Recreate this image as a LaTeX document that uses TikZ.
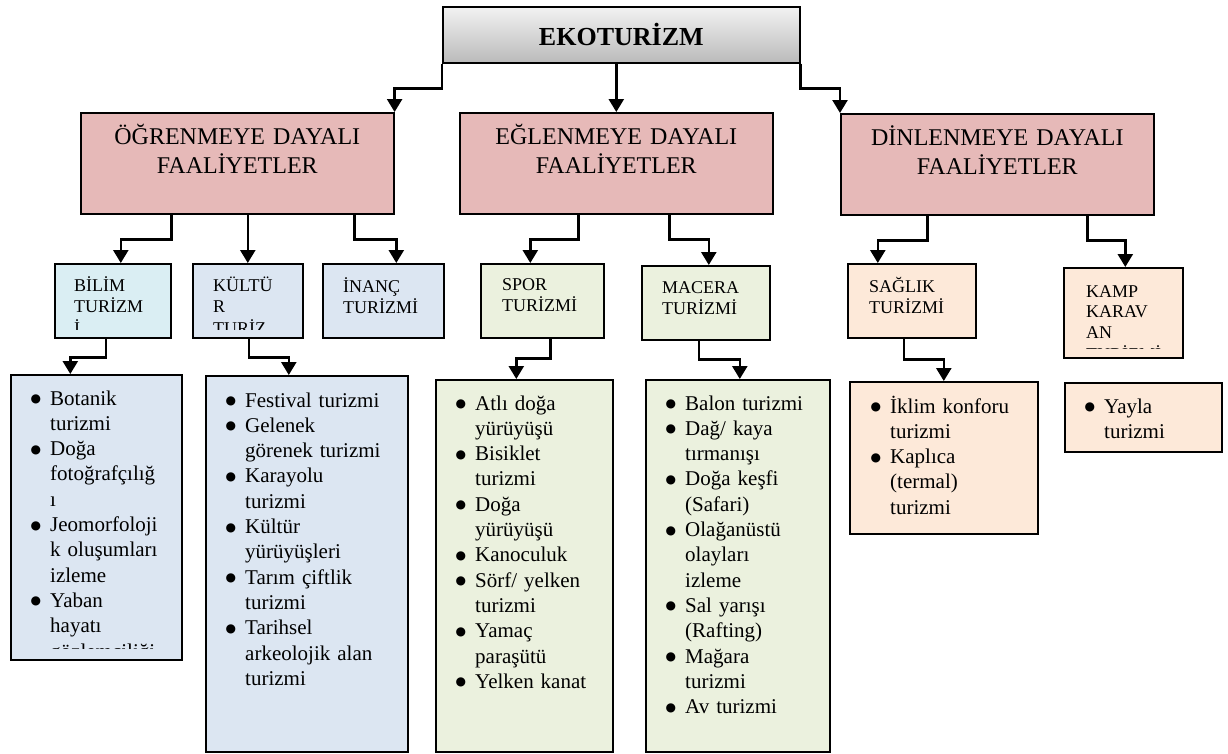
\documentclass[tikz,border=0pt]{standalone}
\usepackage{fontspec}
\setmainfont{Liberation Serif}
\newfontfamily\simge{DejaVu Sans}
\usetikzlibrary{arrows.meta,positioning}
\definecolor{pembe}{HTML}{E6B9B8}
\definecolor{acikmavi}{HTML}{DAEEF3}
\definecolor{grimavi}{HTML}{DCE6F2}
\definecolor{yesil}{HTML}{EBF1DE}
\definecolor{ten}{HTML}{FDE9D9}
\newcommand{\mad}{\makebox[0pt][r]{\raisebox{2.5pt}{\simge\fontsize{12}{12}\selectfont ●}\hspace{9pt}}}

\begin{document}
\begin{tikzpicture}[x=1pt, y=-1pt,
    kutu/.style={draw, line width=1.6pt, anchor=north west, inner sep=0pt},
    ana/.style={kutu, fill=pembe, minimum width=313pt, minimum height=101pt},
    anayazi/.style={anchor=base, inner sep=0pt, text width=300pt, align=center, font=\fontsize{24}{29}\selectfont},
    altyazi/.style={anchor=base west, inner sep=0pt, text width=110pt, align=left, font=\fontsize{18}{21.5}\selectfont},
    liste/.style={anchor=base west, inner sep=0pt, text width=170pt, align=left, font=\fontsize{21}{25.3}\selectfont},
    ok/.style={line width=2.5pt, -{Triangle[width=15pt,length=13pt]}}]
  \useasboundingbox (0,0) rectangle (1228,753);

  % ust kutu
  \node[kutu, top color=black!5, bottom color=black!27, minimum width=357pt, minimum height=56pt,
        font=\bfseries\fontsize{26}{30}\selectfont] (eko) at (442,6) {EKOTURİZM};

  % faaliyetler
  \node[ana] (ogr) at (80,112) {};
  \node[ana] (egl) at (459,112) {};
  \node[ana] (din) at (840,113) {};
  \node[anayazi] (ogrtxt) at ([yshift=-32pt]ogr.north) {ÖĞRENMEYE DAYALI\\FAALİYETLER};
  \node[anayazi] (egltxt) at ([yshift=-32pt]egl.north) {EĞLENMEYE DAYALI\\FAALİYETLER};
  \node[anayazi] (dintxt) at ([yshift=-32pt]din.north) {DİNLENMEYE DAYALI\\FAALİYETLER};

  % turizm turleri
  \node[kutu, fill=acikmavi, minimum width=116pt, minimum height=74pt] (bil) at (54,263) {};
  \node[kutu, fill=grimavi, minimum width=110pt, minimum height=74pt] (kul) at (192,263) {};
  \node[kutu, fill=grimavi, minimum width=121pt, minimum height=74pt] (ina) at (322,263) {};
  \node[kutu, fill=yesil, minimum width=123pt, minimum height=74pt] (spo) at (480,263) {};
  \node[kutu, fill=yesil, minimum width=128pt, minimum height=74pt] (mac) at (641,265) {};
  \node[kutu, fill=ten, minimum width=128pt, minimum height=74pt] (sag) at (847,263) {};
  \node[kutu, fill=ten, minimum width=119pt, minimum height=90pt] (kmp) at (1063,267) {};

  \begin{scope}
    \clip (bil.north west) rectangle ([yshift=9pt]bil.south east);
    \node[altyazi] (biltxt) at (74,291) {BİLİM\\TURİZM\\İ};
  \end{scope}
  \begin{scope}
    \clip (kul.north west) rectangle ([yshift=9pt]kul.south east);
    \node[altyazi] (kultxt) at (213,291) {KÜLTÜ\\R\\TURİZ};
  \end{scope}
  \node[altyazi] (inatxt) at (343,292) {İNANÇ\\TURİZMİ};
  \node[altyazi] (spotxt) at (502,290) {SPOR\\TURİZMİ};
  \node[altyazi] (mactxt) at (662,293) {MACERA\\TURİZMİ};
  \node[altyazi] (sagtxt) at (869,292) {SAĞLIK\\TURİZMİ};
  \begin{scope}
    \clip (kmp.north west) rectangle ([yshift=10.5pt]kmp.south east);
    \node[altyazi, font=\fontsize{18}{20.7}\selectfont] (kmptxt) at (1086,297) {KAMP\\KARAV\\AN\\[1pt]TURİZMİ};
  \end{scope}

  % listeler
  \node[kutu, fill=grimavi, minimum width=171pt, minimum height=285pt] (bill) at (10,374) {};
  \node[kutu, fill=grimavi, minimum width=202pt, minimum height=376pt] (kull) at (205,375) {};
  \node[kutu, fill=yesil, minimum width=177pt, minimum height=372pt] (spol) at (435,379) {};
  \node[kutu, fill=yesil, minimum width=184pt, minimum height=372pt] (macl) at (645,379) {};
  \node[kutu, fill=ten, minimum width=188pt, minimum height=152pt] (sagl) at (849,381) {};
  \node[kutu, fill=ten, minimum width=157pt, minimum height=69pt] (yayl) at (1064,382) {};

  \begin{scope}
    \clip (bill.north west) rectangle ([yshift=12pt]bill.south east);
    \node[liste] (billtxt) at (50,405) {\mad Botanik\\turizmi\\\mad Doğa\\fotoğrafçılığ\\ı\\\mad Jeomorfoloji\\k oluşumları\\izleme\\\mad Yaban\\hayatı\\gözlemciliği};
  \end{scope}
  \node[liste] (kulltxt) at (245,407) {\mad Festival turizmi\\\mad Gelenek\\görenek turizmi\\\mad Karayolu\\turizmi\\\mad Kültür\\yürüyüşleri\\\mad Tarım çiftlik\\turizmi\\\mad Tarihsel\\arkeolojik alan\\turizmi};
  \node[liste] (spoltxt) at (475,410) {\mad Atlı doğa\\yürüyüşü\\\mad Bisiklet\\turizmi\\\mad Doğa\\yürüyüşü\\\mad Kanoculuk\\\mad Sörf/ yelken\\turizmi\\\mad Yamaç\\paraşütü\\\mad Yelken kanat};
  \node[liste] (macltxt) at (685,410) {\mad Balon turizmi\\\mad Dağ/ kaya\\tırmanışı\\\mad Doğa keşfi\\(Safari)\\\mad Olağanüstü\\olayları\\izleme\\\mad Sal yarışı\\(Rafting)\\\mad Mağara\\turizmi\\\mad Av turizmi};
  \node[liste] (sagltxt) at (890,413) {\mad İklim konforu\\turizmi\\\mad Kaplıca\\(termal)\\turizmi};
  \node[liste] (yayltxt) at (1104,413) {\mad Yayla\\turizmi};

  % oklar
  \draw[ok] (eko.south west) -- ++(0,25) -| (ogr.north east);
  \draw[ok] (eko.south -| egl.north) -- (egl.north);
  \draw[ok] (eko.south east) -- ++(0,25) -| (din.north west);

  \draw[ok] (ogr.south -| bil.north east) -- ++(0,25) -| ([xshift=8pt]bil.north);
  \draw[ok] (ogr.south -| kul.north) -- (kul.north);
  \draw[ok] ([xshift=-40pt]ogr.south east) -- ++(0,25) -| ([xshift=13pt]ina.north);
  \draw[ok] ([xshift=-38pt]egl.south) -- ++(0,25) -| ([xshift=-12pt]spo.north);
  \draw[ok] ([xshift=53pt]egl.south) -- ++(0,25) -| ([xshift=3pt]mac.north);
  \draw[ok] ([xshift=-70pt]din.south) -- ++(0,25) -| ([xshift=-34pt]sag.north);
  \draw[ok] ([xshift=90pt]din.south) -- ++(0,25) -| ([xshift=2pt]kmp.north);

  \draw[ok] ([xshift=-7pt]bil.south) -- ++(0,19) -| ([xshift=-26pt]bill.north);
  \draw[ok] ([xshift=1pt]kul.south) -- ++(0,19) -| ([xshift=-18pt]kull.north);
  \draw[ok] ([xshift=8pt]spo.south) -- ++(0,20) -| ([xshift=-8pt]spol.north);
  \draw[ok] ([xshift=-7pt]mac.south) -- ++(0,19) -| ([xshift=2pt]macl.north);
  \draw[ok] ([xshift=-8pt]sag.south) -- ++(0,21) -| (sagl.north);
\end{tikzpicture}
\end{document}
